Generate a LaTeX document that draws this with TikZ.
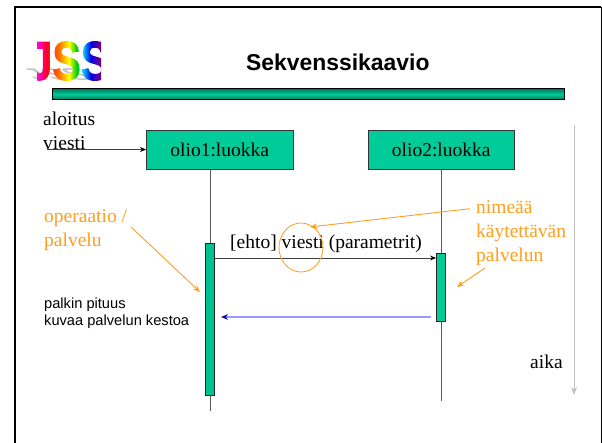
\documentclass[tikz,border=0pt]{standalone}
\usepackage{fontspec}
\setmainfont{Liberation Serif}
\setsansfont{Liberation Sans}[BoldFeatures={FakeBold=2}]
\newfontfamily\otsikkofont{Liberation Sans}
\usetikzlibrary{arrows.meta,shapes.geometric,fadings}
\definecolor{olio}{HTML}{00CC99}
\definecolor{orans}{HTML}{FF9E1F}
\pgfdeclarehorizontalshading{sateenkaari}{100bp}{
  color(0bp)=(magenta); color(25bp)=(magenta!90!red); color(33bp)=(red!90!magenta); color(43bp)=(orange);
  color(50bp)=(yellow); color(56bp)=(green!80!black); color(61bp)=(cyan!80!blue); color(67bp)=(blue!90!black);
  color(75bp)=(violet); color(100bp)=(violet)}
\tikzset{
  olio/.style={draw=black!80,fill=olio,line width=0.9pt,minimum width=146.5pt,minimum height=38.5pt,inner sep=0pt,font=\fontsize{19.5}{24}\selectfont},
  palkki/.style={draw=black!85,fill=olio,line width=0.9pt,minimum width=9pt,inner sep=0pt},
  teksti/.style={anchor=base west,inner sep=0pt,font=\fontsize{19.5}{24}\selectfont},
  huom/.style={teksti,text=orans,align=left},
  viiva/.style={black!65,line width=1pt},
  nuoli/.style={black!75,line width=0.9pt,-{Stealth[length=6pt,width=5pt,color=black]}},
  orans nuoli/.style={orans,line width=0.9pt,-{Stealth[length=7pt,width=5.5pt]}}
}
\begin{tikzfadingfrompicture}[name=jsslogo]
  \node[inner sep=0pt,text=transparent!0,xscale=.585] {\fontsize{57}{57}\sffamily\bfseries\selectfont JSS};
\end{tikzfadingfrompicture}
\begin{document}
\begin{tikzpicture}[x=1pt,y=-1pt]
  \useasboundingbox (0,0) rectangle (602,443);
  \draw[line width=2.4pt] (15,443) -- (15,7) -- (601,7);
  \draw[line width=1pt] (601,7) -- (601,443);

  \node[inner sep=0pt,text=black!22,xslant=-1.4,yscale=.3,xscale=.55,font=\fontsize{57}{57}\otsikkofont\bfseries\selectfont] (varjo) at (57,75) {JSS};
  \shade[shading=sateenkaari,path fading=jsslogo] (37,37) rectangle (101,85);

  \node[inner sep=0pt,font=\fontsize{22.9}{26}\otsikkofont\bfseries\selectfont,anchor=base west] (otsikko) at (246,71) {Sekvenssikaavio};
  \node[draw=black,line width=1pt,inner sep=0pt,minimum width=512.5pt,minimum height=10.5pt,top color=olio!60!black,bottom color=olio!60!black,middle color=olio] (palkkiotsikko) at (308.25,94.25) {};

  \node[teksti,align=left] (aloitus) at (43,149.5) {aloitus\\viesti};
  \node[olio] (olio1) at (219.75,149.75) {olio1:luokka};
  \node[olio] (olio2) at (441.25,149.75) {olio2:luokka};

  \coordinate (loppu1) at (210,411);
  \coordinate (loppu2) at (441,401);
  \draw[viiva] (olio1.south -| loppu1) -- (loppu1);
  \draw[viiva] (olio2.south -| loppu2) -- (loppu2);
  \node[palkki,fill=olio!95!black,minimum height=152pt] (palkki1) at (210,319.5) {};
  \node[palkki,minimum height=68pt] (palkki2) at (441,287.5) {};

  \coordinate (alku) at (47,149.5);
  \draw[nuoli] (alku) -- (olio1.west |- alku);

  \coordinate (pyynto) at (214.5,258);
  \node[teksti] (ehto) at (230,249) {[ehto] viesti (parametrit)};
  \draw[nuoli] (pyynto) -- (palkki2.west |- pyynto);

  \coordinate (paluualku) at (431,317);
  \coordinate (paluuloppu) at (221,317);
  \draw[color=blue!40!white,line width=1.2pt,-{Stealth[length=7pt,width=5.5pt,color=blue!75!black]}] (paluualku) -- (paluuloppu);

  \node[draw=orans,ellipse,line width=0.8pt,minimum width=44pt,minimum height=49pt,inner sep=0pt] (rengas) at (301,247.5) {};

  \node[huom] (operaatio) at (44,247) {operaatio /\\palvelu};
  \node[huom] (nimea) at (476,262) {nimeää\\käytettävän\\palvelun};

  \coordinate (a1) at (131,227);
  \coordinate (a2) at (200,292);
  \coordinate (b1) at (470,208.7);
  \coordinate (b2) at (310,227);
  \coordinate (c1) at (485,268);
  \coordinate (c2) at (457,287);
  \draw[orans nuoli] (a1) -- (a2);
  \draw[orans nuoli] (b1) -- (b2);
  \draw[orans nuoli] (c1) -- (c2);

  \node[teksti,font=\fontsize{14.65}{17}\sffamily\selectfont,align=left] (pituus) at (44,326) {palkin pituus\\kuvaa palvelun kestoa};

  \coordinate (aika1) at (574,125);
  \coordinate (aika2) at (574,395);
  \draw[black!25,line width=1pt,-{Stealth[length=8pt,width=6pt]}] (aika1) -- (aika2);
  \node[teksti] (aika) at (530,368) {aika};
\end{tikzpicture}
\end{document}
